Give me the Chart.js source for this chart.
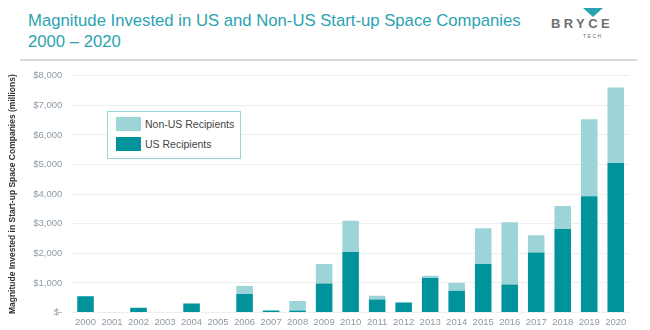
<!DOCTYPE html>
<html>
<head>
<meta charset="utf-8">
<script src="https://cdn.jsdelivr.net/npm/chart.js@4"></script>
<style>
  body { margin: 0; background: #fff; font-family: "Liberation Sans", Arial, sans-serif; }
  #wrap { position: relative; width: 650px; height: 330px; overflow: hidden; }
  #title { position: absolute; left: 28px; top: 10px; color: #2ba3b0; font-size: 16.7px; line-height: 21px; }
  #rule { position: absolute; left: 20px; top: 59px; width: 617px; height: 2px; background: #d5dadd; }
  #logo { position: absolute; left: 549px; top: 6px; width: 92px; height: 34px; }
  #logo .name { position: absolute; left: 2px; top: 10px; font-size: 13px; letter-spacing: 3.4px; color: #6d6f71; font-weight: bold; }
  #logo .tech { position: absolute; left: 34px; top: 27px; font-size: 5px; letter-spacing: 1.5px; color: #6d6f71; }
  #logo .tri { position: absolute; left: 34px; top: 2px; width: 0; height: 0;
    border-left: 10px solid transparent; border-right: 10px solid transparent; border-top: 9px solid #2ba3b0; }
  #chartBox { position: absolute; left: 0; top: 60px; width: 650px; height: 270px; }
  #legend { position: absolute; left: 107px; top: 111px; width: 132px; height: 46px; border: 1px solid #9dd4d9; background: #fff; }
  #legend .row { position: absolute; left: 8px; height: 14px; font-size: 10.5px; color: #444; }
  #legend .sw { display: inline-block; width: 25px; height: 14px; vertical-align: middle; margin-right: 4px; }
  #legend .lbl { vertical-align: middle; }
</style>
</head>
<body>
<div id="wrap">
  <div id="title">Magnitude Invested in US and Non-US Start-up Space Companies<br>2000 – 2020</div>
  <div id="logo"><div class="tri"></div><div class="name">BRYCE</div><div class="tech">TECH</div></div>
  <div id="rule"></div>
  <div id="chartBox"><canvas id="chart"></canvas></div>
  <div id="legend">
    <div class="row" style="top:5px"><span class="sw" style="background:#9dd4d8"></span><span class="lbl">Non-US Recipients</span></div>
    <div class="row" style="top:25px"><span class="sw" style="background:#00939c"></span><span class="lbl">US Recipients</span></div>
  </div>
</div>
<script>
const years = ['2000', '2001', '2002', '2003', '2004', '2005', '2006', '2007', '2008', '2009', '2010',
  '2011', '2012', '2013', '2014', '2015', '2016', '2017', '2018', '2019', '2020'];
const usRecipients = [550, 0, 160, 0, 310, 0, 630, 70, 70, 985, 2050, 440, 340, 1165, 740, 1640, 950, 2030, 2820, 3930, 5050];
const nonUsRecipients = [0, 15, 0, 0, 0, 20, 270, 0, 320, 655, 1050, 130, 0, 80, 260, 1210, 2100, 580, 780, 2600, 2550];
const yTicks = [0, 1000, 2000, 3000, 4000, 5000, 6000, 7000, 8000];

const tickColor = '#8c9aa6';

new Chart(document.getElementById('chart'), {
  type: 'bar',
  data: {
    labels: years,
    datasets: [
      { label: 'US Recipients', data: usRecipients, backgroundColor: '#00939c', barPercentage: 0.78, categoryPercentage: 0.8 },
      { label: 'Non-US Recipients', data: nonUsRecipients, backgroundColor: '#9dd4d8', barPercentage: 0.78, categoryPercentage: 0.8 },
    ],
  },
  options: {
    responsive: true,
    maintainAspectRatio: false,
    animation: false,
    layout: { padding: { left: 8, right: 21, top: 7, bottom: -2 } },
    plugins: {
      legend: { display: false },
      tooltip: { enabled: false },
    },
    scales: {
      x: {
        stacked: true,
        grid: { display: false, drawTicks: false, tickLength: 0 },
        border: { display: false },
        ticks: { color: tickColor, font: { family: 'Liberation Sans', size: 9.5 }, maxRotation: 0, autoSkip: false, padding: 4 },
      },
      y: {
        stacked: true,
        min: 0,
        max: 8000,
        afterBuildTicks: (axis) => { axis.ticks = yTicks.map(v => ({ value: v })); },
        grid: { color: '#eceff1', lineWidth: 1, drawTicks: false },
        border: { display: false },
        ticks: {
          color: tickColor,
          font: { family: 'Liberation Sans', size: 9.5 },
          padding: 10,
          callback: (v) => v === 0 ? '$-' : '$' + v.toLocaleString('en-US'),
        },
        title: {
          display: true,
          text: 'Magnitude Invested in Start-up Space Companies (millions)',
          color: '#333',
          font: { family: 'Liberation Sans', size: 8.5, weight: 'bold' },
          padding: { top: 0, bottom: 5 },
        },
      },
    },
  },
});
</script>
</body>
</html>
